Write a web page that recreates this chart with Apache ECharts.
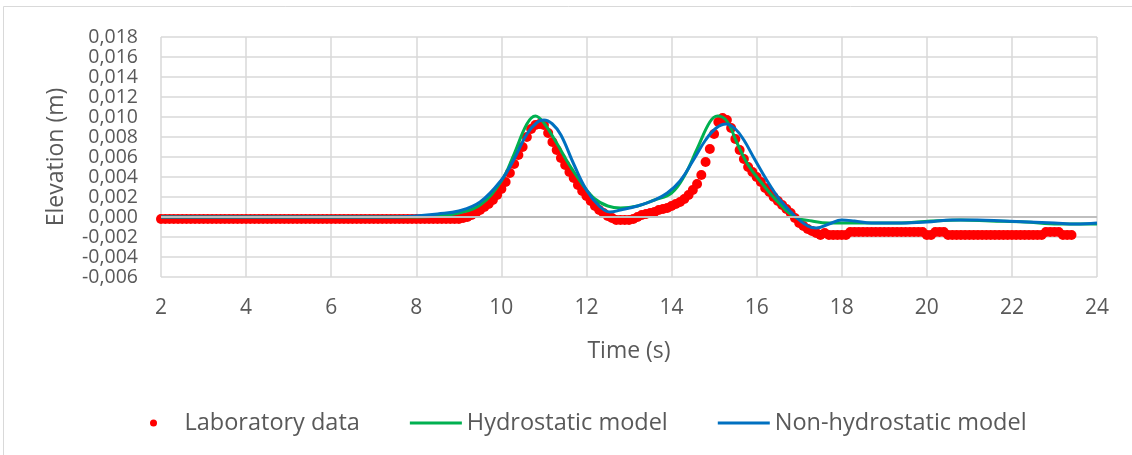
<!DOCTYPE html>
<html>
<head>
<meta charset="utf-8">
<script src="https://cdn.jsdelivr.net/npm/echarts@6/dist/echarts.min.js"></script>
<style>
  html, body { margin: 0; padding: 0; background: #fff; }
  #main { width: 1132px; height: 455px; }
</style>
</head>
<body>
<div id="main"></div>
<script>
// laboratory record, one reading every 0.1 s starting at 2.0 s
var labStart = 2.0;
var labStep = 0.1;
var labValues = [
  // 2.0 - 9.0
  -0.0002, -0.0002, -0.0002, -0.0002, -0.0002, -0.0002, -0.0002, -0.0002, -0.0002, -0.0002,
  -0.0002, -0.0002, -0.0002, -0.0002, -0.0002, -0.0002, -0.0002, -0.0002, -0.0002, -0.0002,
  -0.0002, -0.0002, -0.0002, -0.0002, -0.0002, -0.0002, -0.0002, -0.0002, -0.0002, -0.0002,
  -0.0002, -0.0002, -0.0002, -0.0002, -0.0002, -0.0002, -0.0002, -0.0002, -0.0002, -0.0002,
  -0.0002, -0.0002, -0.0002, -0.0002, -0.0002, -0.0002, -0.0002, -0.0002, -0.0002, -0.0002,
  -0.0002, -0.0002, -0.0002, -0.0002, -0.0002, -0.0002, -0.0002, -0.0002, -0.0002, -0.0002,
  -0.0002, -0.0002, -0.0002, -0.0002, -0.0002, -0.0002, -0.0002, -0.0002, -0.0002, -0.0002,
  -0.0002,
  // 9.1 - 10.0
  -0.0001, 0.0000, 0.0002, 0.0004, 0.0007, 0.0010, 0.0013, 0.0017, 0.0022, 0.0028,
  // 10.1 - 11.0
  0.0035, 0.0044, 0.0053, 0.0062, 0.0070, 0.0080, 0.0088, 0.0092, 0.0093, 0.0092,
  // 11.1 - 12.0
  0.0084, 0.0075, 0.0067, 0.0059, 0.0052, 0.0045, 0.0039, 0.0032, 0.0026, 0.0021,
  // 12.1 - 13.0
  0.0016, 0.0011, 0.0007, 0.0004, 0.0001, -0.0001, -0.0003, -0.0003, -0.0003, -0.0003,
  // 13.1 - 14.0
  -0.0002, 0.0000, 0.0002, 0.0003, 0.0004, 0.0005, 0.0007, 0.0008, 0.0009, 0.0011,
  // 14.1 - 15.0
  0.0013, 0.0015, 0.0018, 0.0022, 0.0027, 0.0033, 0.0042, 0.0055, 0.0068, 0.0083,
  // 15.1 - 16.0
  0.0095, 0.0099, 0.0097, 0.0089, 0.0078, 0.0067, 0.0058, 0.0050, 0.0045, 0.0040,
  // 16.1 - 17.0
  0.0035, 0.0029, 0.0025, 0.0020, 0.0016, 0.0012, 0.0008, 0.0004, -0.0001, -0.0006,
  // 17.1 - 18.0
  -0.0009, -0.0012, -0.0014, -0.0016, -0.0018, -0.0016, -0.0018, -0.0018, -0.0018, -0.0018,
  // 18.1 - 19.0
  -0.0018, -0.0015, -0.0015, -0.0015, -0.0015, -0.0015, -0.0015, -0.0015, -0.0015, -0.0015,
  // 19.1 - 20.0
  -0.0015, -0.0015, -0.0015, -0.0015, -0.0015, -0.0015, -0.0015, -0.0015, -0.0015, -0.0018,
  // 20.1 - 21.0
  -0.0018, -0.0015, -0.0015, -0.0015, -0.0018, -0.0018, -0.0018, -0.0018, -0.0018, -0.0018,
  // 21.1 - 22.0
  -0.0018, -0.0018, -0.0018, -0.0018, -0.0018, -0.0018, -0.0018, -0.0018, -0.0018, -0.0018,
  // 22.1 - 23.0
  -0.0018, -0.0018, -0.0018, -0.0018, -0.0018, -0.0018, -0.0018, -0.0015, -0.0015, -0.0015,
  // 23.1 - 23.4
  -0.0015, -0.0018, -0.0018, -0.0018
];

// model results [time, elevation]
var hydroData = [
  [2, 0], [8, 0], [8.5, 0.0001], [9, 0.0004], [9.5, 0.0012], [10, 0.0036],
  [10.3, 0.0063], [10.6, 0.0093], [10.8, 0.0101], [11.0, 0.0094], [11.3, 0.0074],
  [11.6, 0.0052], [11.9, 0.0033], [12.2, 0.0018], [12.5, 0.0011], [12.8, 0.0009],
  [13.2, 0.0011], [13.6, 0.0017], [14.0, 0.0024], [14.3, 0.0041], [14.6, 0.0068],
  [14.9, 0.0095], [15.08, 0.0101], [15.3, 0.0096], [15.55, 0.0073], [15.8, 0.0052],
  [16.1, 0.0035], [16.5, 0.0015], [16.9, 0.0000], [17.3, -0.0004], [17.7, -0.0006],
  [18.5, -0.0006], [19.3, -0.0006], [20.1, -0.0004], [20.8, -0.0003], [21.5, -0.0004],
  [22.3, -0.0005], [23.1, -0.0007], [24, -0.0007]
];
var nonHydroData = [
  [2, 0], [7.5, 0], [8, 0.0001], [8.5, 0.0003], [9, 0.0006], [9.5, 0.0015],
  [10, 0.0037], [10.3, 0.0058], [10.6, 0.0083], [10.85, 0.0095], [11.0, 0.0097],
  [11.2, 0.0093], [11.4, 0.0082], [11.7, 0.0053], [12.0, 0.0027], [12.3, 0.0011],
  [12.55, 0.0005], [12.8, 0.0007], [13.2, 0.0011], [13.6, 0.0017], [13.9, 0.0024],
  [14.2, 0.0036], [14.5, 0.0056], [14.8, 0.0077], [15.05, 0.0089], [15.28, 0.0093],
  [15.5, 0.0088], [15.7, 0.0077], [15.95, 0.0058], [16.25, 0.0036], [16.55, 0.0017],
  [16.9, 0.0001], [17.2, -0.0009], [17.4, -0.0011], [17.7, -0.0007], [18.0, -0.0003],
  [18.3, -0.0004], [18.7, -0.0006], [19.4, -0.0006], [20.0, -0.0005], [20.6, -0.0003],
  [21.2, -0.0003], [21.8, -0.0004], [22.4, -0.0005], [23.0, -0.0006], [23.5, -0.0007],
  [24, -0.0006]
];

var seriesNames = ["Laboratory data", "Hydrostatic model", "Non-hydrostatic model"];

var labData = labValues.map(function (v, i) {
  return [+(labStart + i * labStep).toFixed(1), v];
});

var font = "'Open Sans', sans-serif";
var textColor = "#595959";
var lineIcon = "path://M0,0 H52 V3 H0 Z";

var chart = echarts.init(document.getElementById("main"));
chart.setOption({
  animation: false,
  backgroundColor: "#fff",
  textStyle: { fontFamily: font },
  graphic: [
    {
      type: "rect",
      shape: { x: 3.5, y: 6.5, width: 1200, height: 500 },
      style: { fill: null, stroke: "#d9d9d9", lineWidth: 1 },
      silent: true
    }
  ],
  grid: { left: 161, right: 35, top: 37, height: 240 },
  legend: {
    left: 145,
    top: 406,
    itemWidth: 52,
    itemHeight: 7,
    itemGap: 50,
    textStyle: { fontFamily: font, fontSize: 23.5, color: textColor },
    data: [
      { name: seriesNames[0], icon: "circle" },
      { name: seriesNames[1], icon: lineIcon },
      { name: seriesNames[2], icon: lineIcon }
    ]
  },
  xAxis: {
    type: "value",
    min: 2,
    max: 24,
    interval: 2,
    name: "Time (s)",
    nameLocation: "middle",
    nameGap: 63,
    nameTextStyle: { fontFamily: font, fontSize: 23, color: textColor },
    axisLine: { show: false, onZero: false },
    axisTick: { show: false },
    axisLabel: { margin: 21, fontFamily: font, fontSize: 21, color: textColor },
    splitLine: { show: true, lineStyle: { color: "#d9d9d9", width: 1.5 } }
  },
  yAxis: {
    type: "value",
    min: -0.006,
    max: 0.018,
    interval: 0.002,
    name: "Elevation (m)",
    nameLocation: "middle",
    nameGap: 93,
    nameTextStyle: { fontFamily: font, fontSize: 23, color: textColor },
    axisLine: { show: false },
    axisTick: { show: false },
    axisLabel: {
      margin: 23,
      fontFamily: font,
      fontSize: 19.5,
      color: textColor,
      showMinLabel: true,
      showMaxLabel: true,
      formatter: function (v) {
        return v.toFixed(3).replace(".", ",");
      }
    },
    splitLine: { show: true, lineStyle: { color: "#d9d9d9", width: 1.5 } }
  },
  series: [
    {
      name: seriesNames[0],
      type: "scatter",
      symbol: "circle",
      symbolSize: 10,
      itemStyle: { color: "#ff0000", opacity: 1 },
      data: labData,
      markLine: {
        silent: true,
        symbol: "none",
        label: { show: false },
        lineStyle: { color: "#bfbfbf", width: 2, type: "solid" },
        data: [{ yAxis: 0 }]
      }
    },
    {
      name: seriesNames[1],
      type: "line",
      smooth: 0.4,
      showSymbol: false,
      lineStyle: { color: "#00b050", width: 3 },
      itemStyle: { color: "#00b050" },
      data: hydroData
    },
    {
      name: seriesNames[2],
      type: "line",
      smooth: 0.4,
      showSymbol: false,
      lineStyle: { color: "#0070c0", width: 3 },
      itemStyle: { color: "#0070c0" },
      data: nonHydroData
    }
  ]
});
</script>
</body>
</html>
